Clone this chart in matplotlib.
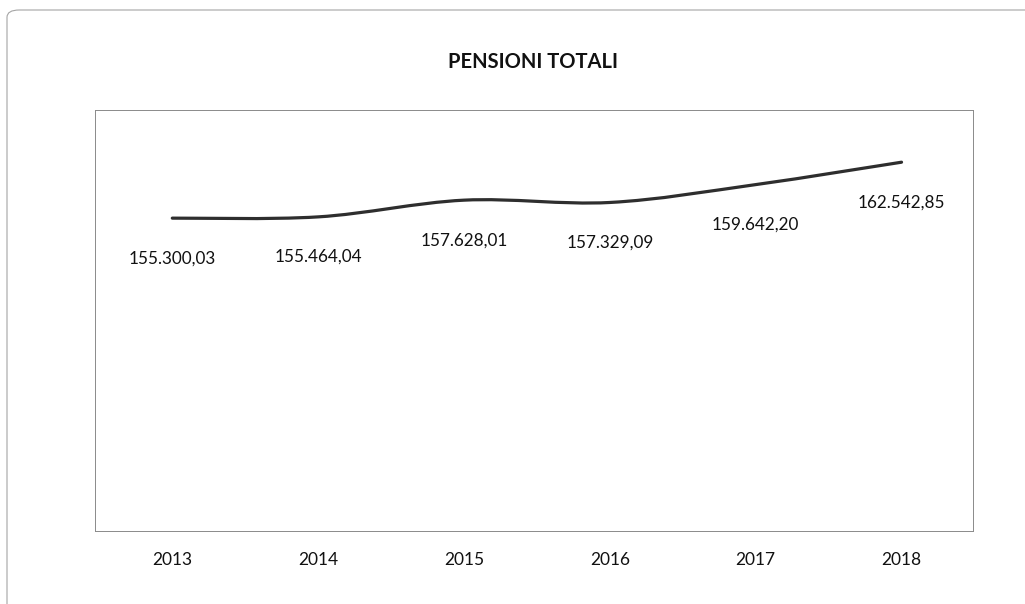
import numpy as np
import matplotlib
matplotlib.use("Agg")
import matplotlib.pyplot as plt
from matplotlib.path import Path
from matplotlib.patches import PathPatch, FancyBboxPatch

years = ["2013", "2014", "2015", "2016", "2017", "2018"]
totals = [155300.03, 155464.04, 157628.01, 157329.09, 159642.20, 162542.85]
labels = ["155.300,03", "155.464,04", "157.628,01", "157.329,09", "159.642,20", "162.542,85"]

plt.rcParams["font.family"] = ["Lato", "DejaVu Sans"]


def smooth_path(xs, ys):
    # cubic bezier through every point, like a smoothed spreadsheet line
    pts = np.column_stack([xs, ys])
    n = len(pts)
    verts = [pts[0]]
    codes = [Path.MOVETO]
    for i in range(n - 1):
        p0 = pts[max(i - 1, 0)]
        p1 = pts[i]
        p2 = pts[i + 1]
        p3 = pts[min(i + 2, n - 1)]
        c1 = p1 + (p2 - p0) / 6
        c2 = p2 - (p3 - p1) / 6
        verts += [c1, c2, p2]
        codes += [Path.CURVE4] * 3
    return Path(verts, codes)


fig = plt.figure(figsize=(10.25, 6.04), dpi=100)

# outer chart frame
frame = FancyBboxPatch((7 / 1025, -0.05), 1.05, (604 - 10) / 604 + 0.05,
                       boxstyle="round,pad=0,rounding_size=0.012",
                       transform=fig.transFigure, fill=False,
                       edgecolor="#a5a5a5", linewidth=0.8)
fig.patches.append(frame)

ax = fig.add_axes([95 / 1025, (604 - 531) / 604, (973 - 95) / 1025, (531 - 110) / 604])

x = np.arange(len(years))
ax.add_patch(PathPatch(smooth_path(x, totals), fill=False,
                       edgecolor="#2e2e2e", linewidth=2.3, capstyle="round"))

for xi, yi, lab in zip(x, totals, labels):
    ax.annotate(lab, (xi, yi), xytext=(0, -40), textcoords="offset pixels",
                ha="center", va="center", fontsize=12.3, color="#111111")

ax.set_xlim(-0.53, 5.49)
ax.set_ylim(114800, 169300)
ax.set_yticks([])
ax.set_xticks(x)
ax.set_xticklabels(years, fontsize=12.5, color="#111111")
ax.tick_params(axis="x", length=0, pad=15)
for s in ax.spines.values():
    s.set_color("#8a8a8a")
    s.set_linewidth(0.7)

fig.text(533 / 1025, 1 - 62 / 604, "PENSIONI TOTALI", ha="center", va="center",
         fontsize=14.5, fontweight="bold", color="#111111")

fig.savefig("out.png", dpi=100)
